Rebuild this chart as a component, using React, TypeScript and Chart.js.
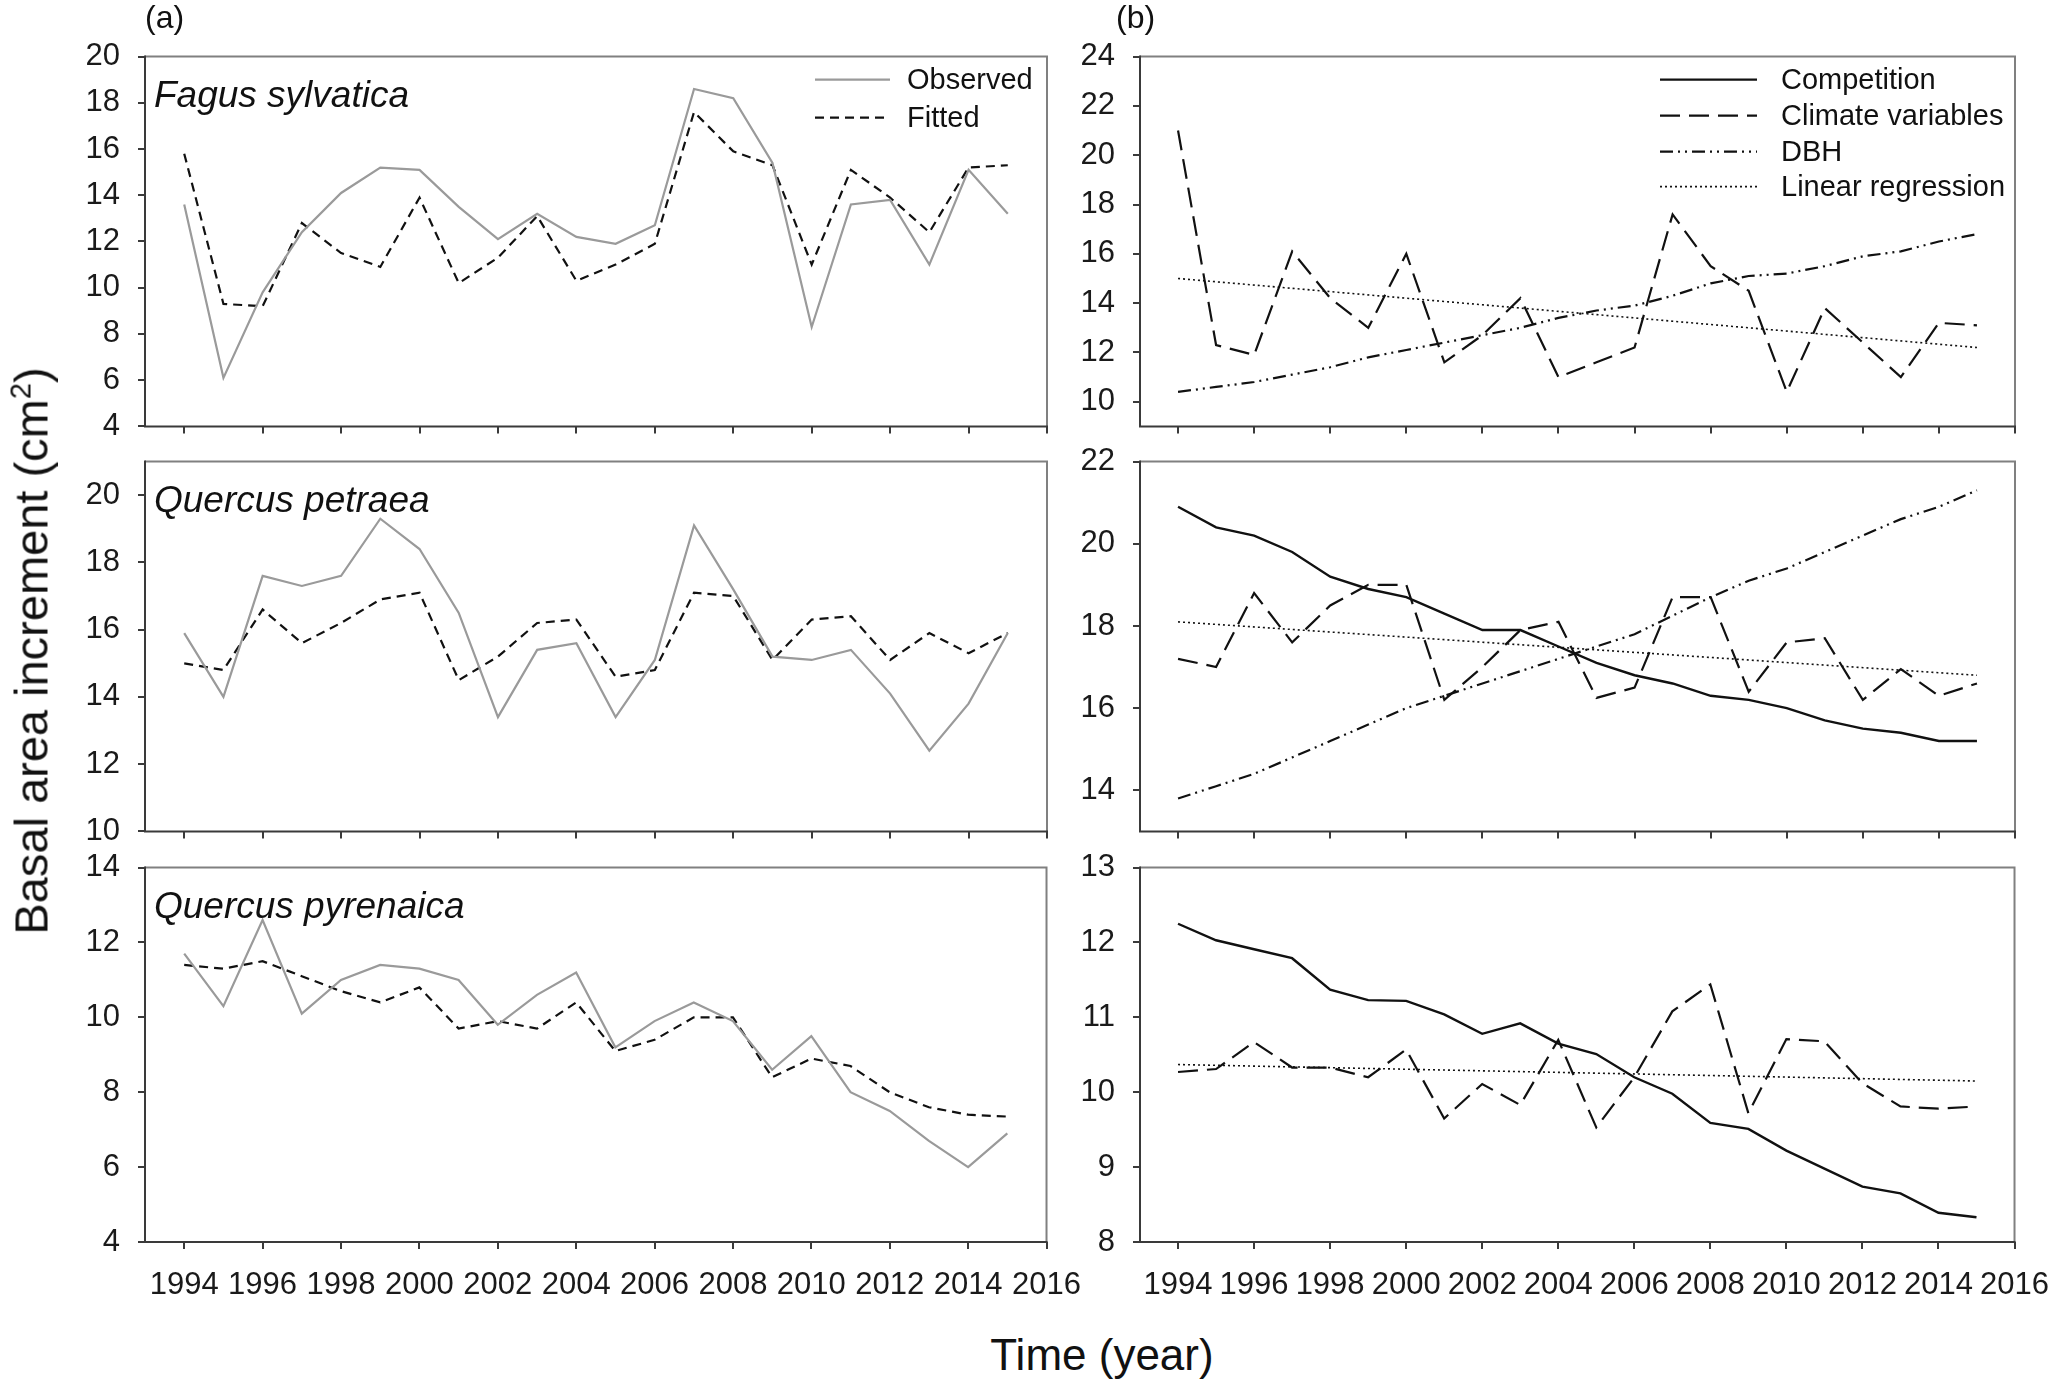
import React, { useEffect, useRef } from "react";
import { Chart, registerables } from "chart.js";

Chart.register(...registerables);

const FONT = "'Liberation Sans', Arial, Helvetica, sans-serif";

// ---------- data ----------
const years = [1994, 1995, 1996, 1997, 1998, 1999, 2000, 2001, 2002, 2003, 2004, 2005, 2006, 2007, 2008, 2009, 2010, 2011, 2012, 2013, 2014, 2015];
const regressionYears = [1994, 2015];
const xTickYears = [1994, 1996, 1998, 2000, 2002, 2004, 2006, 2008, 2010, 2012, 2014, 2016];

// (a) observed vs fitted
const fagusObserved = [13.6, 6.1, 9.8, 12.4, 14.1, 15.2, 15.1, 13.5, 12.1, 13.2, 12.2, 11.9, 12.7, 18.6, 18.2, 15.4, 8.3, 13.6, 13.8, 11.0, 15.1, 13.2];
const fagusFitted = [15.8, 9.3, 9.2, 12.8, 11.5, 10.9, 13.9, 10.2, 11.3, 13.1, 10.3, 11.0, 11.9, 17.6, 15.9, 15.3, 11.0, 15.1, 13.9, 12.4, 15.2, 15.3];
const petraeaObserved = [15.9, 14.0, 17.6, 17.3, 17.6, 19.3, 18.4, 16.5, 13.4, 15.4, 15.6, 13.4, 15.1, 19.1, 17.2, 15.2, 15.1, 15.4, 14.1, 12.4, 13.8, 15.9];
const petraeaFitted = [15.0, 14.8, 16.6, 15.6, 16.2, 16.9, 17.1, 14.5, 15.2, 16.2, 16.3, 14.6, 14.8, 17.1, 17.0, 15.1, 16.3, 16.4, 15.1, 15.9, 15.3, 15.9];
const pyrenaicaObserved = [11.7, 10.3, 12.6, 10.1, 11.0, 11.4, 11.3, 11.0, 9.8, 10.6, 11.2, 9.2, 9.9, 10.4, 9.9, 8.6, 9.5, 8.0, 7.5, 6.7, 6.0, 6.9];
const pyrenaicaFitted = [11.4, 11.3, 11.5, 11.1, 10.7, 10.4, 10.8, 9.7, 9.9, 9.7, 10.4, 9.1, 9.4, 10.0, 10.0, 8.4, 8.9, 8.7, 8.0, 7.6, 7.4, 7.35];

// (b) effects
const fagusClimate = [21.0, 12.3, 11.9, 16.1, 14.2, 13.0, 16.0, 11.6, 12.7, 14.2, 11.0, 11.6, 12.2, 17.6, 15.5, 14.5, 10.4, 13.8, 12.4, 11.0, 13.2, 13.1];
const fagusDBH = [10.4, 10.6, 10.8, 11.1, 11.4, 11.8, 12.1, 12.4, 12.7, 13.0, 13.4, 13.7, 13.9, 14.3, 14.8, 15.1, 15.2, 15.5, 15.9, 16.1, 16.5, 16.8];
const fagusRegression = [15.0, 12.2];

const petraeaCompetition = [20.9, 20.4, 20.2, 19.8, 19.2, 18.9, 18.7, 18.3, 17.9, 17.9, 17.5, 17.1, 16.8, 16.6, 16.3, 16.2, 16.0, 15.7, 15.5, 15.4, 15.2, 15.2];
const petraeaClimate = [17.2, 17.0, 18.8, 17.6, 18.5, 19.0, 19.0, 16.2, 17.0, 17.9, 18.1, 16.25, 16.5, 18.7, 18.7, 16.4, 17.6, 17.7, 16.2, 16.95, 16.3, 16.6];
const petraeaDBH = [13.8, 14.1, 14.4, 14.8, 15.2, 15.6, 16.0, 16.3, 16.6, 16.9, 17.2, 17.5, 17.8, 18.25, 18.7, 19.1, 19.4, 19.8, 20.2, 20.6, 20.9, 21.3];
const petraeaRegression = [18.1, 16.8];

const pyrenaicaCompetition = [12.25, 12.03, 11.91, 11.79, 11.37, 11.23, 11.22, 11.04, 10.78, 10.92, 10.65, 10.51, 10.2, 9.98, 9.59, 9.51, 9.22, 8.98, 8.74, 8.65, 8.39, 8.33];
const pyrenaicaClimate = [10.27, 10.31, 10.67, 10.33, 10.33, 10.2, 10.57, 9.65, 10.11, 9.83, 10.7, 9.53, 10.2, 11.08, 11.44, 9.72, 10.71, 10.68, 10.12, 9.81, 9.78, 9.81];
const pyrenaicaRegression = [10.37, 10.15];

// y tick labels
const yTicksFagusA = [4, 6, 8, 10, 12, 14, 16, 18, 20];
const yTicksPetraeaA = [10, 12, 14, 16, 18, 20];
const yTicksPyrenaicaA = [4, 6, 8, 10, 12, 14];
const yTicksFagusB = [10, 12, 14, 16, 18, 20, 22, 24];
const yTicksPetraeaB = [14, 16, 18, 20, 22];
const yTicksPyrenaicaB = [8, 9, 10, 11, 12, 13];

// ---------- styles ----------
type LineStyle = { color: string; width: number; dash: number[] };
const STYLE: Record<string, LineStyle> = {
  observed: { color: "#9a9a9a", width: 2.2, dash: [] },
  fitted: { color: "#111111", width: 2.2, dash: [9, 6] },
  competition: { color: "#111111", width: 2.4, dash: [] },
  climate: { color: "#111111", width: 2.2, dash: [20, 9] },
  dbh: { color: "#111111", width: 2.2, dash: [13, 5, 2, 5, 2, 5] },
  regression: { color: "#111111", width: 1.6, dash: [2, 3] },
};

type Series = { xs: number[]; ys: number[]; style: LineStyle };
type LegendCfg = { labels: string[]; styles: LineStyle[]; rows: number[]; sx0: number; sx1: number; tx: number };
type Panel = {
  frame: [number, number, number, number];
  leftBox: number;
  yMin: number;
  yMax: number;
  yTicks: number[];
  xLabels: boolean;
  series: Series[];
  species?: string;
  legend?: LegendCfg;
};

const LEFT_X: [number, number] = [145, 1047];
const RIGHT_X: [number, number] = [1140, 2015];
const ROWS: [number, number][] = [[57, 427], [462, 832], [868, 1242]];

const legendA: LegendCfg = {
  labels: ["Observed", "Fitted"],
  styles: [STYLE.observed, STYLE.fitted],
  rows: [23, 61],
  sx0: 670,
  sx1: 745,
  tx: 762,
};
const legendB: LegendCfg = {
  labels: ["Competition", "Climate variables", "DBH", "Linear regression"],
  styles: [STYLE.competition, STYLE.climate, STYLE.dbh, STYLE.regression],
  rows: [23, 59, 95, 130],
  sx0: 520,
  sx1: 617,
  tx: 641,
};

const PANELS: Panel[] = [
  {
    frame: [LEFT_X[0], ROWS[0][0], LEFT_X[1], ROWS[0][1]], leftBox: 140,
    yMin: 4, yMax: 20, yTicks: yTicksFagusA, xLabels: false, species: "Fagus sylvatica", legend: legendA,
    series: [
      { xs: years, ys: fagusObserved, style: STYLE.observed },
      { xs: years, ys: fagusFitted, style: STYLE.fitted },
    ],
  },
  {
    frame: [LEFT_X[0], ROWS[1][0], LEFT_X[1], ROWS[1][1]], leftBox: 140,
    yMin: 10, yMax: 21, yTicks: yTicksPetraeaA, xLabels: false, species: "Quercus petraea",
    series: [
      { xs: years, ys: petraeaObserved, style: STYLE.observed },
      { xs: years, ys: petraeaFitted, style: STYLE.fitted },
    ],
  },
  {
    frame: [LEFT_X[0], ROWS[2][0], LEFT_X[1], ROWS[2][1]], leftBox: 140,
    yMin: 4, yMax: 14, yTicks: yTicksPyrenaicaA, xLabels: true, species: "Quercus pyrenaica",
    series: [
      { xs: years, ys: pyrenaicaObserved, style: STYLE.observed },
      { xs: years, ys: pyrenaicaFitted, style: STYLE.fitted },
    ],
  },
  {
    frame: [RIGHT_X[0], ROWS[0][0], RIGHT_X[1], ROWS[0][1]], leftBox: 100,
    yMin: 9, yMax: 24, yTicks: yTicksFagusB, xLabels: false, legend: legendB,
    series: [
      { xs: years, ys: fagusClimate, style: STYLE.climate },
      { xs: years, ys: fagusDBH, style: STYLE.dbh },
      { xs: regressionYears, ys: fagusRegression, style: STYLE.regression },
    ],
  },
  {
    frame: [RIGHT_X[0], ROWS[1][0], RIGHT_X[1], ROWS[1][1]], leftBox: 100,
    yMin: 13, yMax: 22, yTicks: yTicksPetraeaB, xLabels: false,
    series: [
      { xs: years, ys: petraeaCompetition, style: STYLE.competition },
      { xs: years, ys: petraeaClimate, style: STYLE.climate },
      { xs: years, ys: petraeaDBH, style: STYLE.dbh },
      { xs: regressionYears, ys: petraeaRegression, style: STYLE.regression },
    ],
  },
  {
    frame: [RIGHT_X[0], ROWS[2][0], RIGHT_X[1], ROWS[2][1]], leftBox: 100,
    yMin: 8, yMax: 13, yTicks: yTicksPyrenaicaB, xLabels: true,
    series: [
      { xs: years, ys: pyrenaicaCompetition, style: STYLE.competition },
      { xs: years, ys: pyrenaicaClimate, style: STYLE.climate },
      { xs: regressionYears, ys: pyrenaicaRegression, style: STYLE.regression },
    ],
  },
];

const PAD_TOP = 24;
const PAD_RIGHT = 45;

function makeConfig(panel: Panel, xH: number): any {
  const decor = {
    id: "panelDecor",
    afterDraw(chart: any) {
      const { ctx, chartArea } = chart;
      const { left, top, right, bottom } = chartArea;
      ctx.save();
      ctx.setLineDash([]);
      ctx.lineWidth = 2;
      ctx.strokeStyle = "#808080";
      ctx.beginPath();
      ctx.moveTo(left, top);
      ctx.lineTo(right, top);
      ctx.lineTo(right, bottom);
      ctx.stroke();
      ctx.strokeStyle = "#3a3a3a";
      ctx.beginPath();
      ctx.moveTo(left, top - 1);
      ctx.lineTo(left, bottom);
      ctx.lineTo(right + 1, bottom);
      ctx.stroke();

      if (panel.species) {
        ctx.font = `italic 37px ${FONT}`;
        ctx.fillStyle = "#111";
        ctx.textAlign = "left";
        ctx.textBaseline = "middle";
        ctx.fillText(panel.species, left + 9, top + 40);
      }
      const lg = panel.legend;
      if (lg) {
        ctx.font = `29px ${FONT}`;
        ctx.textAlign = "left";
        ctx.textBaseline = "middle";
        lg.labels.forEach((label, i) => {
          const st = lg.styles[i];
          const y = top + lg.rows[i];
          ctx.strokeStyle = st.color;
          ctx.lineWidth = st.width;
          ctx.setLineDash(st.dash);
          ctx.beginPath();
          ctx.moveTo(left + lg.sx0, y);
          ctx.lineTo(left + lg.sx1, y);
          ctx.stroke();
          ctx.setLineDash([]);
          ctx.fillStyle = "#111";
          ctx.fillText(label, left + lg.tx, y + 1);
        });
      }
      ctx.restore();
    },
  };

  const gridCfg = {
    display: true,
    drawOnChartArea: false,
    drawTicks: true,
    tickLength: 7,
    color: "#3a3a3a",
    lineWidth: 2,
  };

  return {
    type: "line",
    data: {
      datasets: panel.series.map((s) => ({
        data: s.xs.map((x, i) => ({ x, y: s.ys[i] })),
        borderColor: s.style.color,
        borderWidth: s.style.width,
        borderDash: s.style.dash,
        pointRadius: 0,
        fill: false,
        tension: 0,
      })),
    },
    options: {
      animation: false,
      responsive: false,
      maintainAspectRatio: false,
      devicePixelRatio: 1,
      layout: { padding: { top: PAD_TOP, right: PAD_RIGHT, left: 0, bottom: 0 } },
      plugins: { legend: { display: false }, tooltip: { enabled: false } },
      scales: {
        x: {
          type: "linear",
          min: 1993,
          max: 2016,
          afterBuildTicks: (s: any) => {
            s.ticks = xTickYears.map((v) => ({ value: v }));
          },
          afterFit: (s: any) => {
            s.height = xH;
          },
          ticks: {
            display: panel.xLabels,
            autoSkip: false,
            maxRotation: 0,
            minRotation: 0,
            padding: 18,
            color: "#1a1a1a",
            font: { family: FONT, size: 31 },
            callback: (v: any) => String(v),
          },
          grid: gridCfg,
          border: { display: false },
        },
        y: {
          type: "linear",
          min: panel.yMin,
          max: panel.yMax,
          afterBuildTicks: (s: any) => {
            s.ticks = panel.yTicks.map((v) => ({ value: v }));
          },
          afterFit: (s: any) => {
            s.width = panel.leftBox;
          },
          ticks: {
            autoSkip: false,
            padding: 18,
            color: "#1a1a1a",
            font: { family: FONT, size: 31 },
            callback: (v: any) => String(v),
          },
          grid: gridCfg,
          border: { display: false },
        },
      },
    },
    plugins: [decor],
  };
}

function PanelChart({ panel }: { panel: Panel }) {
  const ref = useRef<HTMLCanvasElement>(null);
  const [L, T, R, B] = panel.frame;
  const xH = panel.xLabels ? 70 : 26;
  const cw = R - L + panel.leftBox + PAD_RIGHT;
  const ch = B - T + PAD_TOP + xH;

  useEffect(() => {
    const canvas = ref.current;
    if (!canvas) return;
    const build = (w: number, h: number) => {
      canvas.width = w;
      canvas.height = h;
      canvas.style.width = `${w}px`;
      canvas.style.height = `${h}px`;
      return new Chart(canvas, makeConfig(panel, xH));
    };
    // first pass: measure how Chart.js laid out the plot area, then correct the canvas size
    let chart = build(cw, ch);
    const ca = chart.chartArea;
    const w2 = Math.round(cw + (R - L) - (ca.right - ca.left));
    const h2 = Math.round(ch + (B - T) - (ca.bottom - ca.top));
    chart.destroy();
    chart = build(w2, h2);
    const ca2 = chart.chartArea;
    canvas.style.left = `${L - ca2.left}px`;
    canvas.style.top = `${T - ca2.top}px`;
    return () => chart.destroy();
  }, [panel]);

  return (
    <canvas
      ref={ref}
      width={cw}
      height={ch}
      style={{ position: "absolute", left: L - panel.leftBox, top: T - PAD_TOP, width: cw, height: ch }}
    />
  );
}

export default function App() {
  const textBase: React.CSSProperties = {
    position: "absolute",
    fontFamily: FONT,
    color: "#111",
    whiteSpace: "nowrap",
  };
  return (
    <div style={{ position: "fixed", left: 0, top: 0, width: 2052, height: 1384, background: "#fff", overflow: "hidden" }}>
      {PANELS.map((p, i) => (
        <PanelChart key={i} panel={p} />
      ))}
      <div style={{ ...textBase, left: 145, top: 1, fontSize: 32, lineHeight: "32px" }}>(a)</div>
      <div style={{ ...textBase, left: 1116, top: 1, fontSize: 32, lineHeight: "32px" }}>(b)</div>
      <div
        style={{
          ...textBase,
          left: 31,
          top: 651,
          fontSize: 47,
          lineHeight: "47px",
          transform: "translate(-50%, -50%) rotate(-90deg)",
        }}
      >
        Basal area increment (cm<sup style={{ fontSize: 29, lineHeight: 0 }}>2</sup>)
      </div>
      <div
        style={{
          ...textBase,
          left: 1102,
          top: 1333,
          fontSize: 44,
          lineHeight: "44px",
          transform: "translateX(-50%)",
        }}
      >
        Time (year)
      </div>
    </div>
  );
}
